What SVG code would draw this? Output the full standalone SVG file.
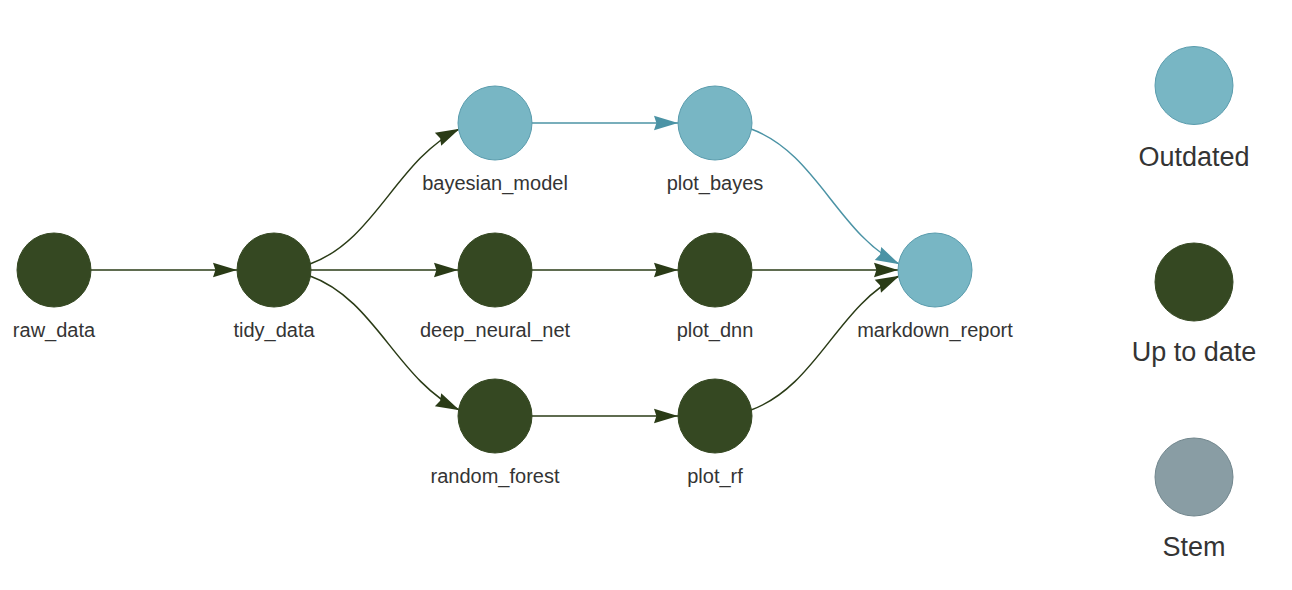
<svg xmlns="http://www.w3.org/2000/svg" width="1292" height="590" viewBox="0 0 1292 590">
<style>
  .lbl { font-family: "Liberation Sans", Arial, sans-serif; font-size: 20px; fill: #343434; text-anchor: middle; }
  .leg { font-family: "Liberation Sans", Arial, sans-serif; font-size: 27px; fill: #343434; text-anchor: middle; }
  .outdated { fill: #78b6c4; stroke: #5a9cad; stroke-width: 1; }
  .uptodate { fill: #354822; stroke: #354822; stroke-width: 1; }
  .stem { fill: #899da4; stroke: #71868d; stroke-width: 1; }
  .eg { fill: none; stroke: #2a3b16; stroke-width: 1.5; marker-end: url(#ag); }
  .eb { fill: none; stroke: #4b93a5; stroke-width: 1.5; marker-end: url(#ab); }
</style>
<defs>
  <marker id="ag" markerUnits="userSpaceOnUse" viewBox="-25 -8 26 16" refX="0" refY="0" markerWidth="26" markerHeight="16" orient="auto">
    <path d="M0,0 L-24,-7.2 L-21.6,0 L-24,7.2 Z" fill="#2a3b16"/>
  </marker>
  <marker id="ab" markerUnits="userSpaceOnUse" viewBox="-25 -8 26 16" refX="0" refY="0" markerWidth="26" markerHeight="16" orient="auto">
    <path d="M0,0 L-24,-7.2 L-21.6,0 L-24,7.2 Z" fill="#4b93a5"/>
  </marker>
</defs>
<rect width="1292" height="590" fill="#ffffff"/>
<g id="edges">
  <path class="eg" d="M91,270 L237,270"/>
  <path class="eg" d="M311,270 L458,270"/>
  <path class="eg" d="M532,270 L678,270"/>
  <path class="eg" d="M752,270 L898,270"/>
  <path class="eb" d="M532,123 L678,123"/>
  <path class="eg" d="M532,416 L678,416"/>
  <path class="eg" d="M309.4,264.2 C375.6,240.6 396.4,159.6 459.6,128.8"/>
  <path class="eg" d="M309.4,275.8 C375.6,299.4 396.4,379.4 459.6,410.2"/>
  <path class="eb" d="M750.4,128.8 C816.6,152.4 837.4,233.4 899.5,264.2"/>
  <path class="eg" d="M750.4,410.2 C816.6,386.6 837.4,305.6 899.5,275.8"/>
</g>
<g id="raw_data"><circle class="uptodate" cx="54" cy="270" r="37"/><text class="lbl" x="54" y="337">raw_data</text></g>
<g id="tidy_data"><circle class="uptodate" cx="274" cy="270" r="37"/><text class="lbl" x="274" y="337">tidy_data</text></g>
<g id="bayesian_model"><circle class="outdated" cx="495" cy="123" r="37"/><text class="lbl" x="495" y="190">bayesian_model</text></g>
<g id="deep_neural_net"><circle class="uptodate" cx="495" cy="270" r="37"/><text class="lbl" x="495" y="337">deep_neural_net</text></g>
<g id="random_forest"><circle class="uptodate" cx="495" cy="416" r="37"/><text class="lbl" x="495" y="483">random_forest</text></g>
<g id="plot_bayes"><circle class="outdated" cx="715" cy="123" r="37"/><text class="lbl" x="715" y="190">plot_bayes</text></g>
<g id="plot_dnn"><circle class="uptodate" cx="715" cy="270" r="37"/><text class="lbl" x="715" y="337">plot_dnn</text></g>
<g id="plot_rf"><circle class="uptodate" cx="715" cy="416" r="37"/><text class="lbl" x="715" y="483">plot_rf</text></g>
<g id="markdown_report"><circle class="outdated" cx="935" cy="270" r="37"/><text class="lbl" x="935" y="337">markdown_report</text></g>
<g id="legend_outdated"><circle class="outdated" cx="1194" cy="85.5" r="39"/><text class="leg" x="1194" y="165.5">Outdated</text></g>
<g id="legend_uptodate"><circle class="uptodate" cx="1194" cy="282" r="39"/><text class="leg" x="1194" y="361">Up to date</text></g>
<g id="legend_stem"><circle class="stem" cx="1194" cy="477" r="39"/><text class="leg" x="1194" y="556">Stem</text></g>
</svg>
